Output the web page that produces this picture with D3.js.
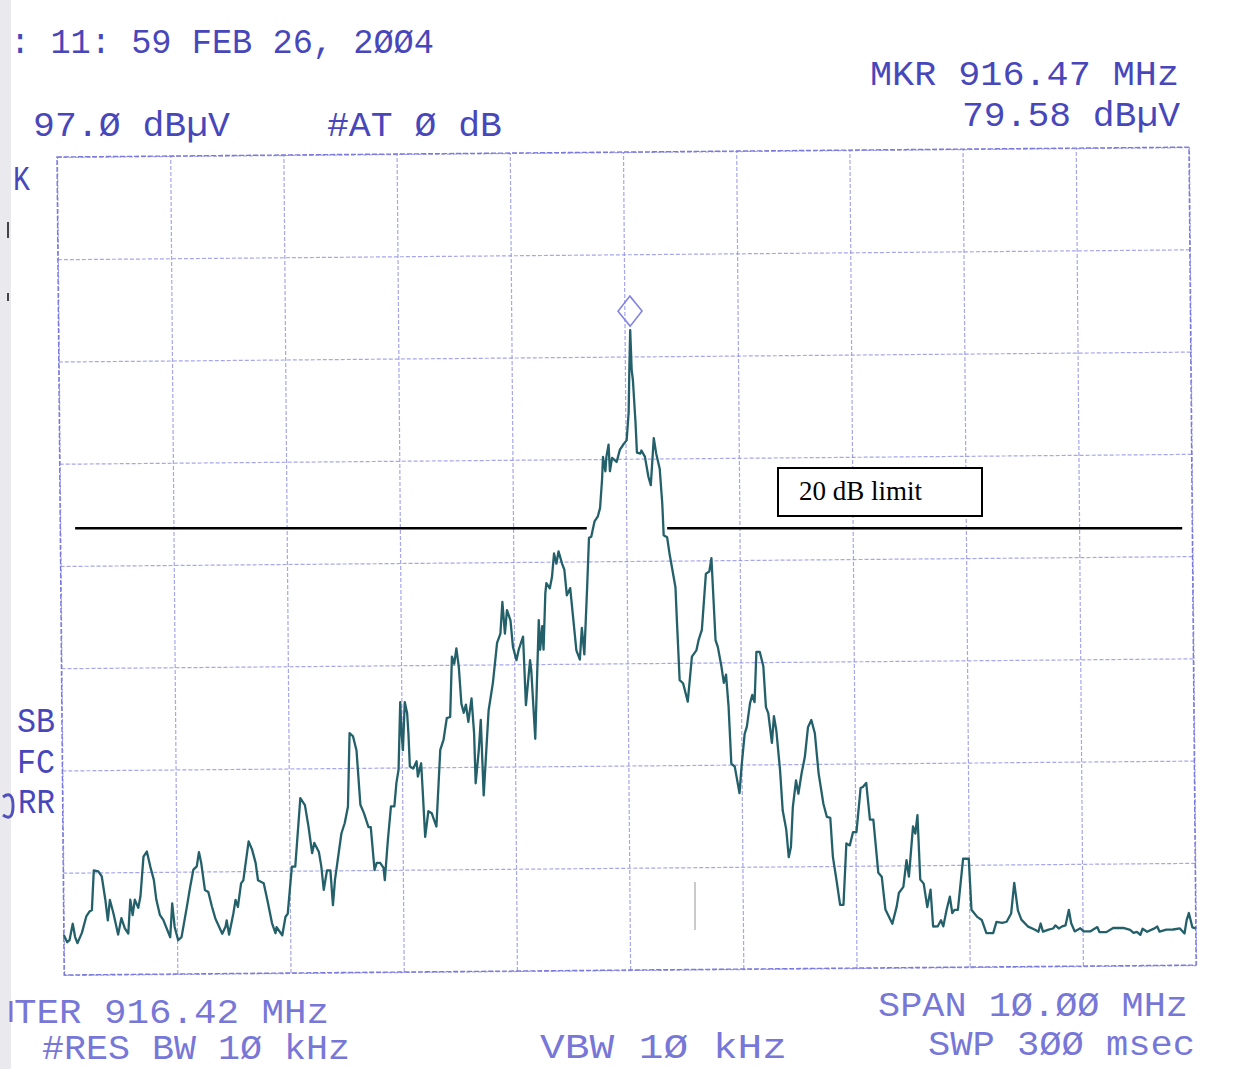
<!DOCTYPE html>
<html>
<head>
<meta charset="utf-8">
<script src="https://cdn.jsdelivr.net/npm/d3@7"></script>
<style>
body { margin: 0; background: #fff; }
svg { display: block; }
</style>
</head>
<body>
<div id="graph"></div>
<script>
const svgw = 1252
const svgh = 1069
const plotw = 1132
const ploth = 818

// analyzer settings
const startMHz = 911.42
const stopMHz = 921.42
const refLevel = 97.0
const bottomLevel = 17.0
const markerMHz = 916.47
const markerLevel = 79.58
const limitLevel = 60.7

const freqTicks = d3.range(0, 11).map(i => startMHz + i)
const levelTicks = d3.range(0, 9).map(i => bottomLevel + i * 10)

// trace
const freqMHz = [
    911.42, 911.45, 911.47, 911.50, 911.52, 911.54, 911.58, 911.62, 911.65, 911.67,
    911.69, 911.73, 911.76, 911.79, 911.81, 911.83, 911.86, 911.90, 911.93, 911.96,
    911.99, 912.01, 912.03, 912.05, 912.08, 912.10, 912.13, 912.16, 912.19, 912.22,
    912.24, 912.27, 912.30, 912.36, 912.38, 912.40, 912.43, 912.46, 912.51, 912.54,
    912.57, 912.60, 912.62, 912.64, 912.67, 912.70, 912.73, 912.76, 912.82, 912.85,
    912.86, 912.88, 912.92, 912.94, 912.96, 912.99, 913.01, 913.06, 913.09, 913.12,
    913.14, 913.19, 913.22, 913.26, 913.29, 913.30, 913.35, 913.38, 913.40, 913.44,
    913.47, 913.52, 913.56, 913.59, 913.62, 913.64, 913.68, 913.70, 913.72, 913.75,
    913.78, 913.80, 913.82, 913.88, 913.91, 913.94, 913.96, 913.99, 914.02, 914.05,
    914.08, 914.12, 914.14, 914.17, 914.19, 914.22, 914.25, 914.26, 914.29, 914.32,
    914.35, 914.37, 914.39, 914.41, 914.42, 914.43, 914.45, 914.47, 914.48, 914.49,
    914.52, 914.55, 914.56, 914.59, 914.60, 914.62, 914.65, 914.68, 914.72, 914.76,
    914.79, 914.82, 914.85, 914.87, 914.89, 914.91, 914.93, 914.95, 914.97, 914.99,
    915.01, 915.04, 915.06, 915.07, 915.10, 915.12, 915.14, 915.19, 915.23, 915.27,
    915.30, 915.32, 915.34, 915.36, 915.39, 915.41, 915.44, 915.46, 915.50, 915.52,
    915.56, 915.57, 915.60, 915.64, 915.65, 915.67, 915.68, 915.70, 915.71, 915.74,
    915.76, 915.78, 915.80, 915.82, 915.85, 915.87, 915.89, 915.92, 915.93, 915.97,
    916.00, 916.02, 916.04, 916.07, 916.09, 916.11, 916.14, 916.17, 916.19, 916.21,
    916.22, 916.24, 916.25, 916.27, 916.28, 916.30, 916.32, 916.34, 916.37, 916.40,
    916.43, 916.45, 916.46, 916.47, 916.48, 916.49, 916.51, 916.52, 916.55, 916.56,
    916.59, 916.62, 916.64, 916.67, 916.69, 916.72, 916.74, 916.75, 916.78, 916.80,
    916.85, 916.86, 916.88, 916.91, 916.95, 916.99, 917.03, 917.05, 917.08, 917.12,
    917.15, 917.17, 917.20, 917.22, 917.25, 917.27, 917.29, 917.31, 917.33, 917.36,
    917.40, 917.42, 917.45, 917.47, 917.50, 917.52, 917.54, 917.56, 917.59, 917.62,
    917.64, 917.66, 917.69, 917.71, 917.73, 917.76, 917.78, 917.81, 917.83, 917.85,
    917.87, 917.90, 917.92, 917.95, 917.98, 918.01, 918.04, 918.07, 918.10, 918.14,
    918.17, 918.20, 918.22, 918.25, 918.28, 918.31, 918.34, 918.37, 918.40, 918.43,
    918.47, 918.49, 918.52, 918.55, 918.58, 918.62, 918.65, 918.68, 918.74, 918.78,
    918.80, 918.84, 918.87, 918.89, 918.93, 918.95, 918.97, 918.99, 919.02, 919.05,
    919.08, 919.10, 919.14, 919.17, 919.19, 919.22, 919.25, 919.27, 919.29, 919.32,
    919.37, 919.42, 919.44, 919.49, 919.53, 919.57, 919.63, 919.66, 919.71, 919.75,
    919.79, 919.82, 919.85, 919.88, 919.94, 920.00, 920.03, 920.05, 920.07, 920.12,
    920.16, 920.18, 920.21, 920.24, 920.27, 920.30, 920.32, 920.35, 920.40, 920.43,
    920.49, 920.55, 920.57, 920.63, 920.69, 920.78, 920.84, 920.87, 920.90, 920.93,
    920.95, 920.99, 921.05, 921.08, 921.10, 921.16, 921.22, 921.28, 921.32, 921.34,
    921.36, 921.39, 921.42
]

const levelDbuV = [
    20.9, 20.2, 20.4, 22.0, 20.7, 20.1, 21.1, 22.7, 23.2, 23.3,
    27.2, 27.1, 26.6, 24.3, 22.3, 24.3, 23.0, 20.9, 22.5, 21.5,
    21.0, 24.3, 22.8, 24.3, 23.5, 24.6, 28.5, 29.0, 27.5, 26.2,
    24.3, 22.8, 22.3, 20.6, 23.9, 21.6, 20.3, 20.6, 23.6, 25.5,
    27.2, 27.5, 28.9, 27.8, 25.2, 25.0, 23.6, 22.4, 20.9, 21.6,
    22.2, 20.8, 22.9, 24.2, 23.5, 25.8, 26.1, 29.9, 29.1, 27.8,
    26.1, 25.8, 24.2, 21.9, 20.9, 21.5, 20.7, 22.5, 22.8, 27.4,
    27.4, 34.1, 33.4, 31.3, 28.7, 29.7, 28.8, 27.4, 25.1, 27.0,
    27.0, 23.6, 26.1, 30.6, 31.6, 33.2, 40.4, 40.1, 38.7, 33.4,
    32.6, 31.2, 31.2, 27.0, 27.7, 27.7, 27.2, 26.0, 29.9, 33.2,
    33.2, 35.5, 36.8, 43.4, 40.3, 38.7, 43.4, 42.3, 40.3, 37.1,
    36.9, 37.6, 36.1, 37.4, 35.1, 30.2, 32.7, 32.5, 31.2, 38.7,
    39.7, 41.8, 41.9, 47.8, 47.1, 48.6, 46.8, 43.2, 42.3, 43.1,
    41.4, 43.7, 40.3, 35.4, 38.6, 41.6, 34.2, 42.5, 45.2, 49.1,
    50.0, 53.1, 50.0, 52.3, 51.3, 48.7, 47.4, 48.4, 49.7, 43.0,
    47.4, 46.4, 39.7, 51.3, 48.4, 50.7, 48.4, 53.9, 54.9, 54.4,
    55.5, 57.8, 56.8, 58.0, 56.8, 56.2, 53.7, 54.4, 53.2, 48.3,
    47.4, 50.5, 47.9, 54.5, 59.3, 59.4, 60.9, 61.4, 62.2, 65.0,
    67.2, 65.8, 67.2, 68.4, 65.8, 67.1, 66.9, 66.7, 67.9, 68.4,
    68.8, 71.5, 76.0, 79.58, 75.7, 74.7, 70.5, 67.6, 67.5, 67.8,
    67.2, 65.2, 64.4, 69.0, 67.5, 66.0, 62.6, 59.5, 59.3, 57.7,
    54.4, 51.2, 45.3, 45.0, 43.2, 47.6, 48.2, 49.2, 50.2, 55.7,
    55.9, 57.2, 49.2, 48.5, 46.6, 45.0, 45.8, 42.7, 37.1, 36.8,
    34.2, 36.8, 40.0, 40.7, 43.0, 43.8, 43.1, 48.0, 48.0, 46.6,
    42.6, 42.0, 39.1, 41.7, 40.3, 36.4, 32.5, 30.6, 27.9, 28.9,
    32.8, 35.4, 34.1, 36.1, 37.7, 40.6, 41.3, 40.0, 36.1, 33.1,
    31.8, 31.7, 27.9, 25.6, 23.2, 23.2, 29.2, 29.0, 30.3, 30.3,
    34.6, 34.7, 35.1, 31.5, 31.5, 26.3, 25.9, 22.7, 21.3, 23.0,
    24.3, 24.9, 27.5, 25.9, 30.8, 30.1, 31.9, 25.6, 25.2, 22.9,
    24.6, 21.0, 21.0, 21.6, 21.0, 22.6, 23.9, 22.3, 22.6, 22.6,
    27.6, 27.6, 22.6, 21.9, 21.6, 20.3, 20.3, 21.4, 21.3, 21.4,
    22.2, 25.2, 22.5, 21.6, 20.9, 20.6, 20.4, 21.2, 20.4, 20.6,
    20.7, 21.0, 20.7, 20.9, 21.0, 22.5, 21.2, 20.4, 20.7, 20.4,
    20.4, 20.8, 20.3, 20.3, 20.7, 20.7, 20.5, 20.2, 20.3, 20.0,
    20.6, 20.3, 20.6, 20.8, 20.3, 20.5, 20.5, 20.6, 20.1, 21.4,
    22.1, 20.7, 20.6
]

// limit line segments (left and right of the carrier)
const limitSegments = [[911.58, 916.10], [916.81, 921.36]]

// printed annotations of the analyzer (only what is visible on the scan)
const headerTexts = [
    { t: ': 11: 59 FEB 26, 2\u00D8\u00D84', x: 10, y: 53, w: 424 },
    { t: '97.\u00D8 dB\u00B5V', x: 33, y: 136, w: 197 },
    { t: '#AT \u00D8 dB', x: 327, y: 136, w: 175 },
    { t: 'MKR 916.47 MHz', x: 870, y: 85, w: 309 },
    { t: '79.58 dB\u00B5V', x: 962, y: 126, w: 218 },
    { t: 'K', x: 13, y: 190, w: 17 },
    { t: 'SB', x: 17, y: 732, w: 38 },
    { t: 'FC', x: 17, y: 773, w: 38 },
    { t: 'RR', x: 18, y: 813, w: 37 }
]
const footerTexts = [
    { t: 'TER 916.42 MHz', x: 14, y: 1023, w: 315 },
    { t: '#RES BW 1\u00D8 kHz', x: 42, y: 1059, w: 308 },
    { t: 'VBW 1\u00D8 kHz', x: 540, y: 1058, w: 247 },
    { t: 'SPAN 1\u00D8.\u00D8\u00D8 MHz', x: 878, y: 1016, w: 310 },
    { t: 'SWP 3\u00D8\u00D8 msec', x: 928, y: 1055, w: 267 }
]

const trace = freqMHz.map((f, i) => ({ f: f, l: levelDbuV[i] }))

const svg = d3.select('#graph')
    .append('svg')
    .attr('width', svgw)
    .attr('height', svgh)

svg.append('rect').attr('width', svgw).attr('height', svgh).attr('fill', '#fff')
svg.append('rect').attr('x', 0).attr('y', 0).attr('width', 11).attr('height', svgh).attr('fill', '#e9e9ee')

const xScale = d3.scaleLinear().domain([startMHz, stopMHz]).range([0, plotw])
const yScale = d3.scaleLinear().domain([bottomLevel, refLevel]).range([ploth, 0])

// the scanned screen is a little tilted
const plot = svg.append('g')
    .attr('transform', 'translate(57,157) rotate(-0.5)')

const gridColor = '#9090e6'

const xGrid = d3.axisBottom(xScale).tickValues(freqTicks).tickSize(-ploth).tickFormat('')
const yGrid = d3.axisLeft(yScale).tickValues(levelTicks).tickSize(-plotw).tickFormat('')

plot.append('g')
    .attr('transform', `translate(0,${ploth})`)
    .call(xGrid)
    .call(g => g.select('.domain').remove())
    .selectAll('line')
    .attr('stroke', gridColor)
    .attr('stroke-width', 1.2)
    .attr('stroke-dasharray', '4 2')
    .attr('opacity', 0.8)

plot.append('g')
    .call(yGrid)
    .call(g => g.select('.domain').remove())
    .selectAll('line')
    .attr('stroke', gridColor)
    .attr('stroke-width', 1.2)
    .attr('stroke-dasharray', '4 2')
    .attr('opacity', 0.8)

plot.append('rect')
    .attr('x', 0).attr('y', 0)
    .attr('width', plotw).attr('height', ploth)
    .attr('fill', 'none')
    .attr('stroke', '#7a7ade')
    .attr('stroke-width', 1.4)
    .attr('stroke-dasharray', '5 2')

const line = d3.line()
    .x(d => xScale(d.f))
    .y(d => yScale(d.l))

plot.append('path')
    .datum(trace)
    .attr('d', line)
    .attr('fill', 'none')
    .attr('stroke', '#23606a')
    .attr('stroke-width', 2.3)
    .attr('stroke-linejoin', 'round')

// marker diamond above the peak
const mx = xScale(markerMHz)
const my = yScale(markerLevel) - 19
plot.append('path')
    .attr('d', `M${mx},${my - 15}L${mx + 12},${my}L${mx},${my + 15}L${mx - 12},${my}Z`)
    .attr('fill', 'none')
    .attr('stroke', '#8585e0')
    .attr('stroke-width', 1.6)

// small scan artefacts
svg.append('line')
    .attr('x1', 695).attr('x2', 695).attr('y1', 882).attr('y2', 930)
    .attr('stroke', '#8a8a8a').attr('stroke-width', 1.5).attr('opacity', 0.6)
svg.append('line')
    .attr('x1', 8).attr('x2', 8).attr('y1', 222).attr('y2', 238)
    .attr('stroke', '#444').attr('stroke-width', 2)
svg.append('line')
    .attr('x1', 8).attr('x2', 8).attr('y1', 293).attr('y2', 301)
    .attr('stroke', '#444').attr('stroke-width', 2)
svg.append('path')
    .attr('d', 'M3,797 Q13,790 13,806 Q13,822 3,815')
    .attr('fill', 'none')
    .attr('stroke', '#3434b4').attr('stroke-width', 3).attr('opacity', 0.85)
svg.append('line')
    .attr('x1', 11).attr('x2', 11).attr('y1', 1001).attr('y2', 1022)
    .attr('stroke', '#4a4acc').attr('stroke-width', 3).attr('opacity', 0.75)

// 20 dB limit overlay, drawn flat on the page
const xPage = d3.scaleLinear().domain([startMHz, stopMHz]).range([57, 57 + plotw])
const yPage = d3.scaleLinear().domain([bottomLevel, refLevel]).range([157 + ploth, 157])

svg.selectAll('.limit')
    .data(limitSegments)
    .enter()
    .append('line')
    .attr('class', 'limit')
    .attr('x1', d => xPage(d[0]))
    .attr('x2', d => xPage(d[1]))
    .attr('y1', yPage(limitLevel))
    .attr('y2', yPage(limitLevel))
    .attr('stroke', '#000')
    .attr('stroke-width', 2.5)

svg.append('rect')
    .attr('x', 778).attr('y', 468)
    .attr('width', 204).attr('height', 48)
    .attr('fill', '#fff')
    .attr('stroke', '#000')
    .attr('stroke-width', 2)

svg.append('text')
    .attr('x', 799).attr('y', 500)
    .attr('font-family', '"Liberation Serif", "Times New Roman", serif')
    .attr('font-size', 27)
    .attr('fill', '#000')
    .text('20 dB limit')

function printText(list, color, opacity) {
    svg.selectAll(null)
        .data(list)
        .enter()
        .append('text')
        .attr('x', d => d.x)
        .attr('y', d => d.y)
        .attr('textLength', d => d.w)
        .attr('lengthAdjust', 'spacingAndGlyphs')
        .attr('font-family', '"Liberation Mono", "DejaVu Sans Mono", monospace')
        .attr('font-size', 35)
        .attr('fill', color)
        .attr('opacity', opacity)
        .style('white-space', 'pre')
        .text(d => d.t)
}

printText(headerTexts, '#3434b4', 0.9)
printText(footerTexts, '#4a4acc', 0.75)
</script>
</body>
</html>
